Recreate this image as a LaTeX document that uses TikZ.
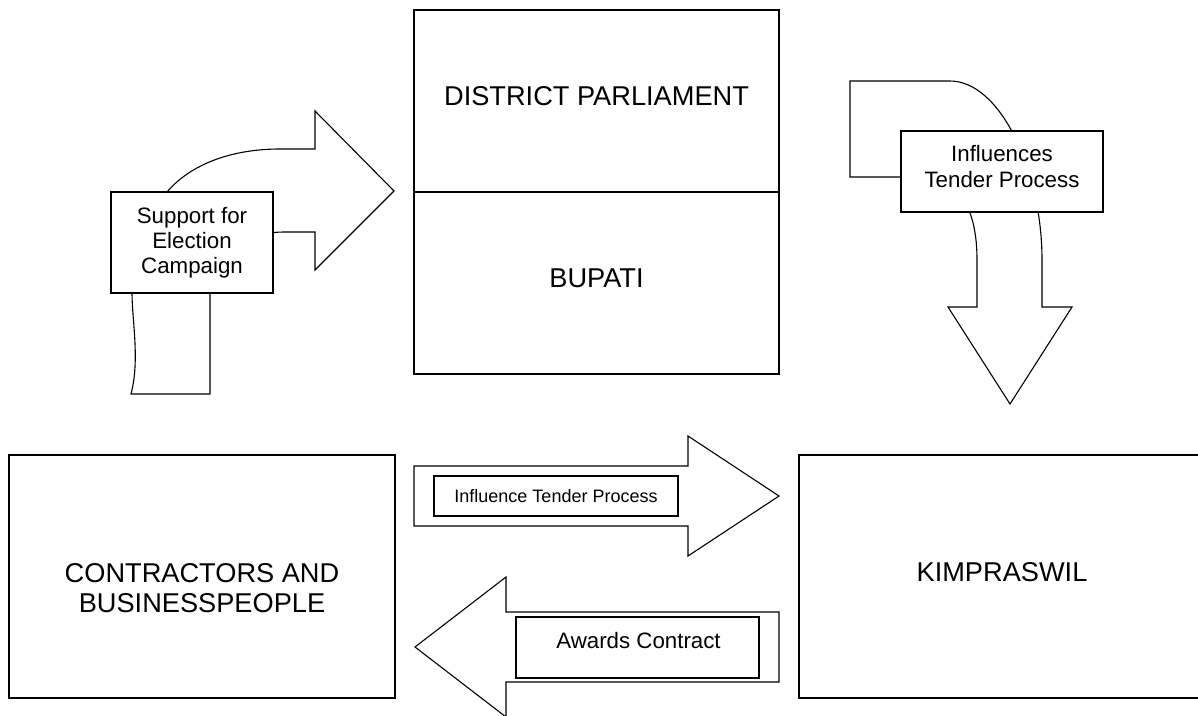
\documentclass[tikz,border=0pt]{standalone}
\usepackage{fontspec}
\setmainfont{Liberation Sans}
\usepackage{tikz}
\usetikzlibrary{positioning}

\tikzset{
  bigbox/.style={draw, line width=1.1pt, fill=white, inner sep=0pt},
  bigtext/.style={align=center, font=\fontsize{27.2}{30}\selectfont, inner sep=0pt},
  tagbox/.style={draw, line width=1.1pt, fill=white, inner sep=0pt, align=center},
  blockarrow/.style={draw, line width=1.1pt, fill=white, line join=miter}
}

\begin{document}
\begin{tikzpicture}[x=1pt,y=-1pt]
\useasboundingbox (0,0) rectangle (1198,715);
\clip (0,0) rectangle (1198,715);

% curved arrow: support for election campaign
\draw [blockarrow] (210,394) -- (210,290) .. controls (210,255) and (240,232) .. (285,232) -- (315,232) -- (315,270) -- (394,191) -- (315,111) -- (315,149) -- (280,149) .. controls (230,149) and (190,165) .. (167,192) .. controls (150,215) and (132,260) .. (132,293) .. controls (132,320) and (140,360) .. (131,394) -- cycle;
\node [tagbox, minimum width=162, minimum height=101, font=\fontsize{22.3}{25}\selectfont] (support) at (192,242.5) {Support for\\Election\\Campaign};

% curved arrow: influences tender process
\draw [blockarrow] (850,81) -- (950,81) .. controls (1000,81) and (1042,170) .. (1042,260) -- (1042,307) -- (1072,307) -- (1010,404) -- (948,307) -- (977,307) -- (977,260) .. controls (977,210) and (960,177) .. (920,177) -- (850,177) -- cycle;
\node [tagbox, minimum width=202, minimum height=81] (influences) at (1002,171.5) {};
\node [align=center, inner sep=0pt, font=\fontsize{22.3}{26}\selectfont] (influencestxt) at (1002,167) {Influences\\Tender Process};

% district parliament and bupati
\node [bigbox, minimum width=365, minimum height=182] (dpr) at (596.5,101) {};
\node [bigbox, minimum width=365, minimum height=182, below=-1.1pt of dpr] (bupati) {};
\node [bigtext] (dprtxt) at (596.5,96.5) {DISTRICT PARLIAMENT};
\node [bigtext] (bupatitxt) at (596.5,278.5) {BUPATI};

% contractors and kimpraswil
\node [bigbox, minimum width=386, minimum height=243] (contractors) at (202,576.5) {};
\node [bigtext] (contractorstxt) at (202,588.5) {CONTRACTORS AND\\BUSINESSPEOPLE};
\node [bigbox, minimum width=407, minimum height=243] (kimpraswil) at (1002.5,576.5) {};
\node [bigtext] (kimpraswiltxt) at (1002,572.5) {KIMPRASWIL};

% straight arrows
\draw [blockarrow] (414,466) -- (688,466) -- (688,436) -- (779,496) -- (688,556) -- (688,526) -- (414,526) -- cycle;
\node [tagbox, minimum width=244, minimum height=40, font=\fontsize{18}{20}\selectfont] (tender) at (556,496) {Influence Tender Process};

\draw [blockarrow] (779,612) -- (506,612) -- (506,577) -- (415,647) -- (506,717) -- (506,682) -- (779,682) -- cycle;
\node [tagbox, minimum width=243, minimum height=61] (awards) at (637.5,647.5) {};
\node [inner sep=0pt, font=\fontsize{22.3}{26}\selectfont] (awardstxt) at (638.5,640.5) {Awards Contract};
\end{tikzpicture}
\end{document}
